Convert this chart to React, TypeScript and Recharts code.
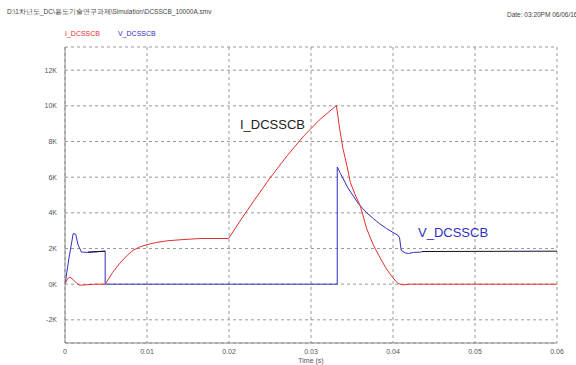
import { LineChart, Line, XAxis, YAxis, CartesianGrid } from "recharts";

// I_DCSSCB (red)
const tI = [0, 0.0003, 0.0006, 0.001, 0.0014, 0.0018, 0.0025, 0.0037, 0.0049, 0.0058, 0.0067, 0.0075, 0.0083, 0.0091, 0.01, 0.0112, 0.0124, 0.0144, 0.0165, 0.0199, 0.02, 0.0215, 0.023, 0.025, 0.027, 0.029, 0.031, 0.0331, 0.0335, 0.0339, 0.0344, 0.0348, 0.0354, 0.036, 0.0368, 0.0376, 0.0384, 0.0392, 0.04, 0.0406, 0.0412, 0.042, 0.05, 0.06];
const iVals = [0, 300, 400, 250, 60, -60, -40, 0, 0, 650, 1180, 1580, 1900, 2080, 2220, 2340, 2430, 2500, 2560, 2560, 2590, 3650, 4650, 5950, 7150, 8250, 9200, 10020, 8700, 7600, 6600, 5700, 5000, 4400, 3100, 2200, 1500, 850, 350, 40, -40, 0, 0, 0];

// V_DCSSCB (blue)
const tV = [0, 0.0005, 0.001, 0.0013, 0.0016, 0.002, 0.0028, 0.0049, 0.0049, 0.0332, 0.0332, 0.0336, 0.0345, 0.0358, 0.0368, 0.0376, 0.0384, 0.0392, 0.04, 0.0406, 0.0408, 0.041, 0.0415, 0.0419, 0.0425, 0.0435];
const vVals = [0, 1500, 2840, 2800, 2200, 1800, 1780, 1850, 0, 0, 6570, 6200, 5400, 4500, 4000, 3680, 3380, 3120, 2900, 2740, 2600, 1900, 1750, 1720, 1780, 1800];

// dark trace overlapping the flat parts
const tK = [0.0028, 0.0049, 0.03, 0.0435, 0.06];
const kVals: (number | null)[] = [1800, 1850, null, 1830, 1850];

const xTicks = [0, 0.01, 0.02, 0.03, 0.04, 0.05, 0.06];
const yTicks = [-2000, 0, 2000, 4000, 6000, 8000, 10000, 12000];

const iData = tI.map((t, k) => ({ t, v: iVals[k] }));
const vData = tV.map((t, k) => ({ t, v: vVals[k] }));
const kData = tK.map((t, k) => ({ t, v: kVals[k] }));

const font = "'Liberation Sans', Arial, sans-serif";
const tickStyle = { fontSize: 7, fill: "#555", fontFamily: font };

export default function App() {
  return (
    <div style={{ position: "absolute", left: 0, top: 0, width: 576, height: 365, background: "#fff", fontFamily: font }}>
      <div style={{ position: "absolute", left: 7, top: 8, fontSize: 6.5, color: "#444", whiteSpace: "nowrap" }}>
        D:\1차년도_DC\용도기술연구과제\Simulation\DCSSCB_10000A.smv
      </div>
      <div style={{ position: "absolute", left: 507, top: 11, fontSize: 6.5, color: "#444", whiteSpace: "nowrap" }}>
        Date: 03:20PM 06/06/16
      </div>
      <div style={{ position: "absolute", left: 65, top: 30, fontSize: 7, color: "#e03030" }}>I_DCSSCB</div>
      <div style={{ position: "absolute", left: 118, top: 30, fontSize: 7, color: "#3030c0" }}>V_DCSSCB</div>
      <LineChart width={576} height={365} margin={{ top: 47, right: 19, left: 35, bottom: 2 }}>
        <CartesianGrid stroke="#999" strokeDasharray="3 3" />
        <XAxis
          xAxisId="top"
          orientation="top"
          type="number"
          dataKey="t"
          domain={[0, 0.06]}
          tick={false}
          tickLine={false}
          height={0}
          axisLine={{ stroke: "#888" }}
        />
        <XAxis
          type="number"
          dataKey="t"
          domain={[0, 0.06]}
          ticks={xTicks}
          tickFormatter={(v: number) => String(v)}
          tick={tickStyle}
          tickLine={false}
          tickSize={0}
          tickMargin={6}
          height={20}
          axisLine={{ stroke: "#888" }}
          allowDataOverflow
          label={{ value: "Time (s)", position: "insideBottom", offset: 0, fontSize: 7, fill: "#555", fontFamily: font }}
        />
        <YAxis
          type="number"
          domain={[-3300, 13300]}
          ticks={yTicks}
          tickFormatter={(v: number) => `${v / 1000}K`}
          tick={tickStyle}
          tickLine={false}
          tickSize={0}
          tickMargin={8}
          width={30}
          axisLine={{ stroke: "#888" }}
          allowDataOverflow
        />
        <Line data={vData} dataKey="v" type="linear" stroke="#3030c0" strokeWidth={1} dot={false} isAnimationActive={false} />
        <Line data={kData} dataKey="v" type="linear" stroke="#101030" strokeWidth={1} dot={false} isAnimationActive={false} connectNulls={false} />
        <Line data={iData} dataKey="v" type="linear" stroke="#e03030" strokeWidth={1} dot={false} isAnimationActive={false} />
      </LineChart>
      <div style={{ position: "absolute", left: 240, top: 117, fontSize: 13, color: "#222" }}>I_DCSSCB</div>
      <div style={{ position: "absolute", left: 418, top: 225, fontSize: 13, color: "#3030c0" }}>V_DCSSCB</div>
    </div>
  );
}
